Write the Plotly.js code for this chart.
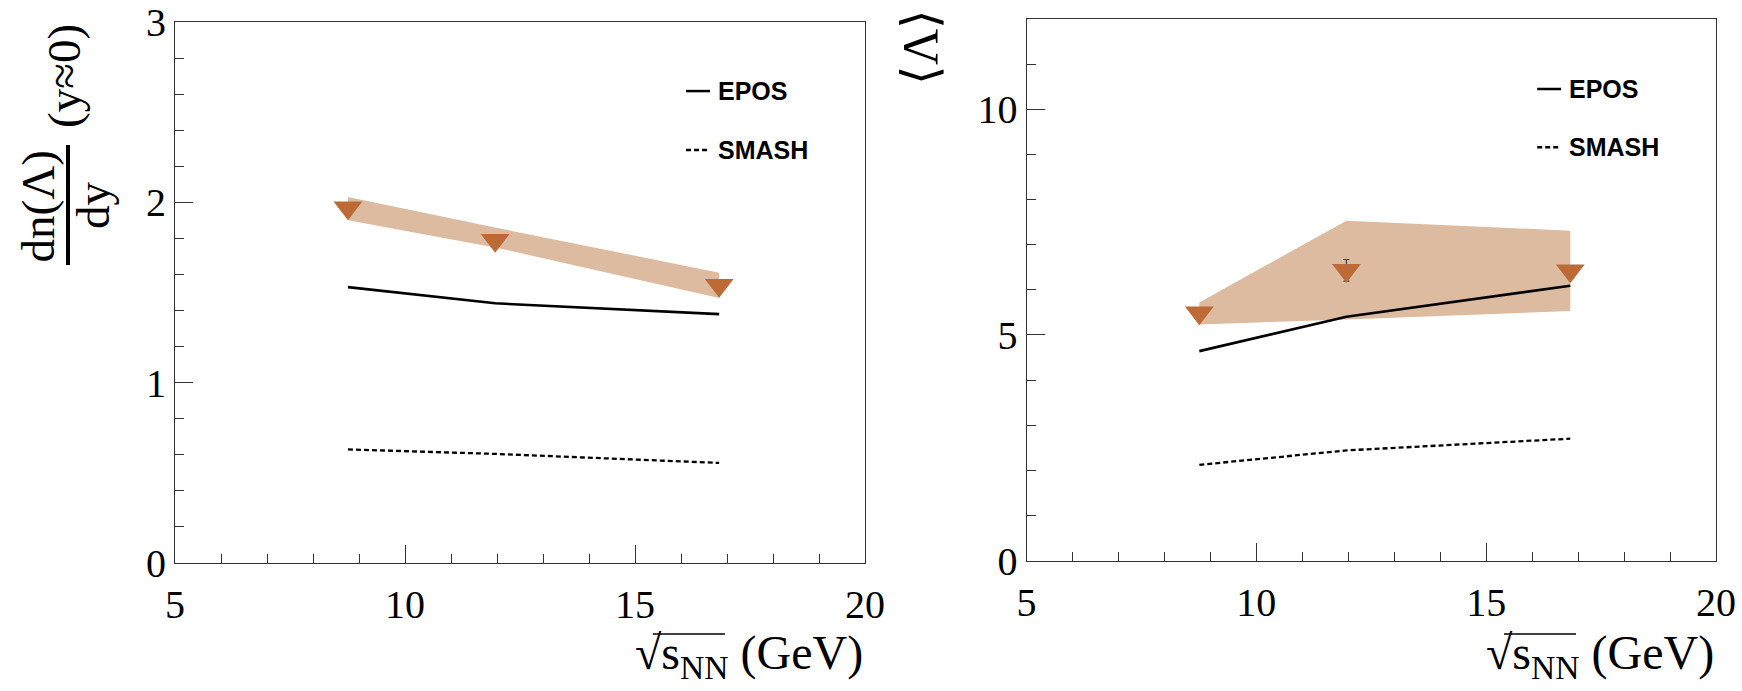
<!DOCTYPE html>
<html>
<head>
<meta charset="utf-8">
<script src="https://cdn.plot.ly/plotly-3.0.1.min.js"></script>
<style>html,body{margin:0;padding:0;background:#fff;}#chart{width:1742px;height:691px;}</style>
</head>
<body>
<div id="chart"></div>
<script>
// ---- data ----
const energies = [8.76, 11.96, 16.83];          // sqrt(s_NN) in GeV
// left panel: dn/dy (y~0)
const dndyData  = [1.97, 1.79, 1.54];
const dndyBandHi = [2.03, 1.86, 1.61];
const dndyBandLo = [1.90, 1.75, 1.47];
const dndyEPOS  = [1.53, 1.44, 1.38];
const dndySMASH = [0.63, 0.605, 0.555];
// right panel: <Lambda>
const multData  = [5.49, 6.43, 6.42];
const multErr   = [0, 0.24, 0];
const multBandHi = [5.72, 7.53, 7.31];
const multBandLo = [5.23, 5.34, 5.53];
const multEPOS  = [4.64, 5.40, 6.09];
const multSMASH = [2.12, 2.44, 2.70];
// legend / tick labels
const legendNames = ['EPOS', 'SMASH'];
const xTicks = [5, 10, 15, 20];
const yTicksLeft = [0, 1, 2, 3];
const yTicksRight = [0, 5, 10];

// ---- styles ----
const bandColor = '#DDBBA0';
const markColor = '#BD6A36';
const axColor = '#333333';
const serif = 'Liberation Serif, Times New Roman, serif';
const sans = 'Liberation Sans, Arial, sans-serif';

function bandX(x) { return x.concat(x.slice().reverse()); }
function bandY(hi, lo) { return hi.concat(lo.slice().reverse()); }

function panelTraces(xa, ya, hi, lo, epos, smash, pts, err) {
  return [
    {x: bandX(energies), y: bandY(hi, lo), xaxis: xa, yaxis: ya, type: 'scatter', mode: 'lines',
     fill: 'toself', fillcolor: bandColor, line: {width: 0, color: bandColor}, hoverinfo: 'skip'},
    {x: energies, y: epos, xaxis: xa, yaxis: ya, type: 'scatter', mode: 'lines', name: legendNames[0],
     line: {color: '#000', width: 2.6}},
    {x: energies, y: smash, xaxis: xa, yaxis: ya, type: 'scatter', mode: 'lines', name: legendNames[1],
     line: {color: '#000', width: 2.3, dash: '5px,3px'}},
    {x: energies, y: pts, xaxis: xa, yaxis: ya, type: 'scatter', mode: 'markers',
     marker: {symbol: 'triangle-down', size: 25, color: markColor, line: {width: 0}},
     error_y: err ? {type: 'data', array: err, visible: true, color: '#444', thickness: 1.2, width: 3} : undefined}
  ];
}

const traces = [].concat(
  panelTraces('x', 'y', dndyBandHi, dndyBandLo, dndyEPOS, dndySMASH, dndyData, null),
  panelTraces('x2', 'y2', multBandHi, multBandLo, multEPOS, multSMASH, multData, multErr)
);

function xAxis(domain, anchor) {
  return {
    domain: domain, anchor: anchor, range: [5, 20], tickvals: xTicks, ticktext: xTicks.map(String),
    ticks: 'inside', ticklen: 18, tickwidth: 1, tickcolor: axColor,
    showline: true, linecolor: axColor, linewidth: 1, mirror: true,
    showgrid: false, zeroline: false, ticklabelstandoff: 6,
    tickfont: {family: serif, size: 40, color: '#000'},
    minor: {ticks: 'inside', ticklen: 9, tickwidth: 1, tickcolor: axColor, dtick: 1, showgrid: false}
  };
}
function yAxis(domain, anchor, range, vals, minorD) {
  return {
    domain: domain, anchor: anchor, range: range, tickvals: vals, ticktext: vals.map(String),
    ticks: 'inside', ticklen: 18, tickwidth: 1, tickcolor: axColor,
    showline: true, linecolor: axColor, linewidth: 1, mirror: true,
    showgrid: false, zeroline: false,
    tickfont: {family: serif, size: 40, color: '#000'},
    minor: {ticks: 'inside', ticklen: 9, tickwidth: 1, tickcolor: axColor, dtick: minorD, showgrid: false}
  };
}

const W = 1742, H = 691;
const px = v => v / W, py = v => 1 - v / H;

const xTitle = '\u221As<sub>NN</sub> (GeV)';

function legendAnn(xref, yref, y, name) {
  return {xref: xref, yref: yref, x: 16.75, y: y, xanchor: 'left', yanchor: 'middle', showarrow: false,
    text: '<b>' + name + '</b>', font: {family: sans, size: 25, color: '#000'}};
}
function legendLine(xref, yref, y, dash) {
  return {type: 'line', xref: xref, yref: yref, x0: 16.11, x1: 16.63, y0: y, y1: y,
    line: {color: '#000', width: 2.5, dash: dash}};
}
function overline(xref) {
  return {type: 'line', xref: xref, yref: 'paper', x0: 0.6925, x1: 0.797, y0: py(634), y1: py(634),
    line: {color: '#000', width: 1.5}};
}

const layout = {
  width: W, height: H, margin: {l: 0, r: 0, t: 0, b: 0},
  paper_bgcolor: '#fff', plot_bgcolor: '#fff', showlegend: false,
  xaxis: xAxis([175 / W, 865 / W], 'y'),
  yaxis: yAxis([1 - 563 / H, 1 - 22 / H], 'x', [0, 3], yTicksLeft, 0.2),
  xaxis2: xAxis([1026.5 / W, 1716 / W], 'y2'),
  yaxis2: yAxis([1 - 560.5 / H, 1 - 19 / H], 'x2', [0, 12], yTicksRight, 1),
  annotations: [
    // y title, left (fraction)
    {xref: 'paper', yref: 'paper', x: px(37.5), y: py(207), text: 'dn(\u039B)', textangle: -90, showarrow: false,
     xanchor: 'center', yanchor: 'middle', font: {family: serif, size: 47, color: '#000'}},
    {xref: 'paper', yref: 'paper', x: px(93), y: py(205), text: 'dy', textangle: -90, showarrow: false,
     xanchor: 'center', yanchor: 'middle', font: {family: serif, size: 47, color: '#000'}},
    {xref: 'paper', yref: 'paper', x: px(64), y: py(76), text: '(y\u22480)', textangle: -90, showarrow: false,
     xanchor: 'center', yanchor: 'middle', font: {family: serif, size: 47, color: '#000'}},
    // y title, right
    {xref: 'paper', yref: 'paper', x: px(920), y: py(47), text: '\u27E8\u039B\u27E9', textangle: -90, showarrow: false,
     xanchor: 'center', yanchor: 'middle', font: {family: serif, size: 50, color: '#000'}},
    // x titles
    {xref: 'x domain', yref: 'paper', x: 1, y: py(656), text: xTitle, showarrow: false,
     xanchor: 'right', yanchor: 'middle', font: {family: serif, size: 48, color: '#000'}},
    {xref: 'x2 domain', yref: 'paper', x: 1, y: py(656), text: xTitle, showarrow: false,
     xanchor: 'right', yanchor: 'middle', font: {family: serif, size: 48, color: '#000'}},
    // legends
    legendAnn('x', 'y', 2.617, legendNames[0]),
    legendAnn('x', 'y', 2.29, legendNames[1]),
    legendAnn('x2', 'y2', 10.45, legendNames[0]),
    legendAnn('x2', 'y2', 9.16, legendNames[1])
  ],
  shapes: [
    {type: 'line', xref: 'paper', yref: 'paper', x0: px(68), x1: px(68), y0: py(145), y1: py(265),
     line: {color: '#000', width: 4}},
    overline('x domain'),
    overline('x2 domain'),
    legendLine('x', 'y', 2.617, 'solid'),
    legendLine('x', 'y', 2.29, '5px,3px'),
    legendLine('x2', 'y2', 10.45, 'solid'),
    legendLine('x2', 'y2', 9.16, '5px,3px')
  ]
};

Plotly.newPlot('chart', traces, layout, {staticPlot: true, displayModeBar: false});
</script>
</body>
</html>
